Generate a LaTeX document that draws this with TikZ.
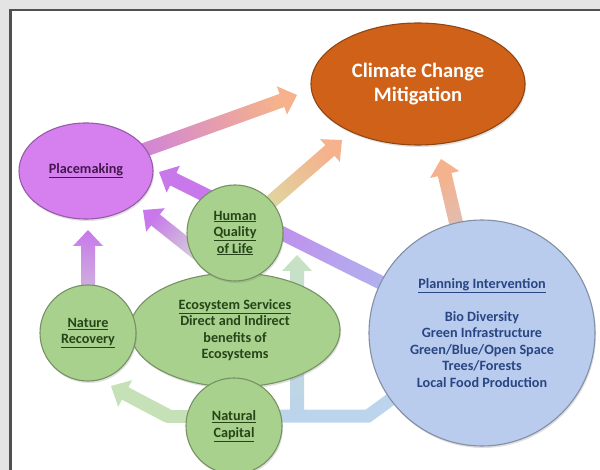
\documentclass[tikz,border=0pt]{standalone}
\usepackage{fontspec}
\setmainfont{Carlito}
\usepackage{tikz}
\usetikzlibrary{shapes.geometric, calc, backgrounds, shadows}

\definecolor{climfill}{RGB}{207,98,24}
\definecolor{placefill}{RGB}{214,128,240}
\definecolor{greenfill}{RGB}{169,209,142}
\definecolor{planfill}{RGB}{186,204,237}
\definecolor{greentext}{RGB}{38,68,24}
\definecolor{purpletext}{RGB}{68,22,80}
\definecolor{bluetext}{RGB}{40,70,132}
\definecolor{framegray}{RGB}{228,228,228}
\definecolor{frameline}{RGB}{80,80,80}
\definecolor{arpurple}{RGB}{200,120,235}
\definecolor{arpeach}{RGB}{245,178,140}
\definecolor{arlime}{RGB}{215,228,170}
\definecolor{arblue}{RGB}{190,208,240}
\definecolor{arlav}{RGB}{170,196,240}
\definecolor{argrey}{RGB}{212,218,212}
\definecolor{argreen}{RGB}{198,224,184}
\definecolor{arsky}{RGB}{188,212,236}
\definecolor{armint}{RGB}{200,226,195}

\newcommand\nodefont{\fontsize{14.2pt}{16.5pt}\selectfont\bfseries}

% shaded block arrow: tail, tip, tail colour, tip colour
\newcommand\fatarrow[4]{%
  \pgfmathanglebetweenpoints{\pgfpointanchor{#1}{center}}{\pgfpointanchor{#2}{center}}%
  \pgfmathsetmacro\arrang{\pgfmathresult-90}%
  \coordinate (hb) at ($(#2)!16pt!(#1)$);
  \shade[bottom color=#3, top color=#4, shading angle=\arrang]
    ($(#1)!7pt!90:(#2)$) -- ($(hb)!7pt!90:(#2)$) -- ($(hb)!15pt!90:(#2)$) -- (#2)
    -- ($(hb)!15pt!-90:(#2)$) -- ($(hb)!7pt!-90:(#2)$) -- ($(#1)!7pt!-90:(#2)$) -- cycle;
}

\tikzset{
  bubble/.style={draw=#1!70!black, fill=#1, line width=1.1pt, inner sep=0pt, align=center, font=\nodefont,
    drop shadow={opacity=0.25, shadow xshift=1pt, shadow yshift=-2pt}},
  climnode/.style={bubble=climfill, ellipse, minimum width=214pt, minimum height=122pt, text=white,
    font=\fontsize{20.5pt}{24pt}\selectfont\bfseries},
  placenode/.style={bubble=placefill, ellipse, minimum width=134pt, minimum height=96pt, text=purpletext},
  greenball/.style={bubble=greenfill, circle, minimum size=96pt, text=greentext},
  greenoval/.style={greenball, ellipse, minimum width=210pt, minimum height=114pt},
  plannode/.style={bubble=planfill, circle, minimum size=226pt, text=bluetext},
  band/.style={line width=13pt, line cap=round},
}

\begin{document}
\begin{tikzpicture}[x=1pt, y=-1pt]
  \useasboundingbox (0,0) rectangle (600,470);

  % Nodes
  \node[greenoval] (eco) at (235,330) {\underline{Ecosystem Services}\\Direct and Indirect\\benefits of\\Ecosystems};
  \node[greenball] (qol) at (235,233) {\underline{Human}\\\underline{Quality}\\\underline{of Life}};
  \node[greenball] (nature) at (88,333) {\underline{Nature}\\\underline{Recovery}};
  \node[greenball] (natcap) at (234,426) {\underline{Natural}\\\underline{Capital}};
  \node[placenode] (place) at (86,171) {\underline{Placemaking}};
  \node[climnode] (clim) at (418,84) {Climate Change\\Mitigation};
  \node[plannode] (plan) at (482,333) {\underline{Planning Intervention}\\[16.5pt]Bio Diversity\\Green Infrastructure\\Green/Blue/Open Space\\Trees/Forests\\Local Food Production};

  % Arrow ends
  \coordinate (pc-tip) at (297,95);
  \coordinate (qc-tip) at (342,140);
  \coordinate (plc-tip) at (441,159);
  \coordinate (plp-tip) at (159,172);
  \coordinate (qp-tail) at (207,261);
  \coordinate (qp-tip) at (143,210);
  \coordinate (np-tip) at (88,230);
  \coordinate (cn-bend) at (168,416);
  \coordinate (cn-tip) at (111,386);
  \coordinate (pq-bend) at (368,416);
  \coordinate (pq-turn) at (297,416);
  \coordinate (pq-tip) at (297,255);

  \begin{scope}[on background layer]
    % frame
    \fill[framegray] (0,0) rectangle (600,470);
    \fill[white] (10,10) rectangle (600,470);
    \draw[frameline, line width=2.5pt] (10.5,470) -- (10.5,10) -- (600,10);

    % Arrows
    \fatarrow{place}{pc-tip}{arpurple}{arpeach}
    \fatarrow{qol}{qc-tip}{arlime}{arpeach}
    \fatarrow{plan}{plc-tip}{arblue}{arpeach}
    \fatarrow{plan}{plp-tip}{arlav}{arpurple}
    \fatarrow{qp-tail}{qp-tip}{argrey}{arpurple}
    \fatarrow{nature}{np-tip}{argrey}{arpurple}
    \draw[band, argreen] (natcap.center |- cn-bend) -- (cn-bend);
    \fatarrow{cn-bend}{cn-tip}{argreen}{argreen}
    \draw[band, arsky, line join=miter] (natcap.center |- pq-turn) -- (pq-bend) -- (plan.center);
    \fatarrow{pq-turn}{pq-tip}{arsky}{armint}
  \end{scope}
\end{tikzpicture}
\end{document}
